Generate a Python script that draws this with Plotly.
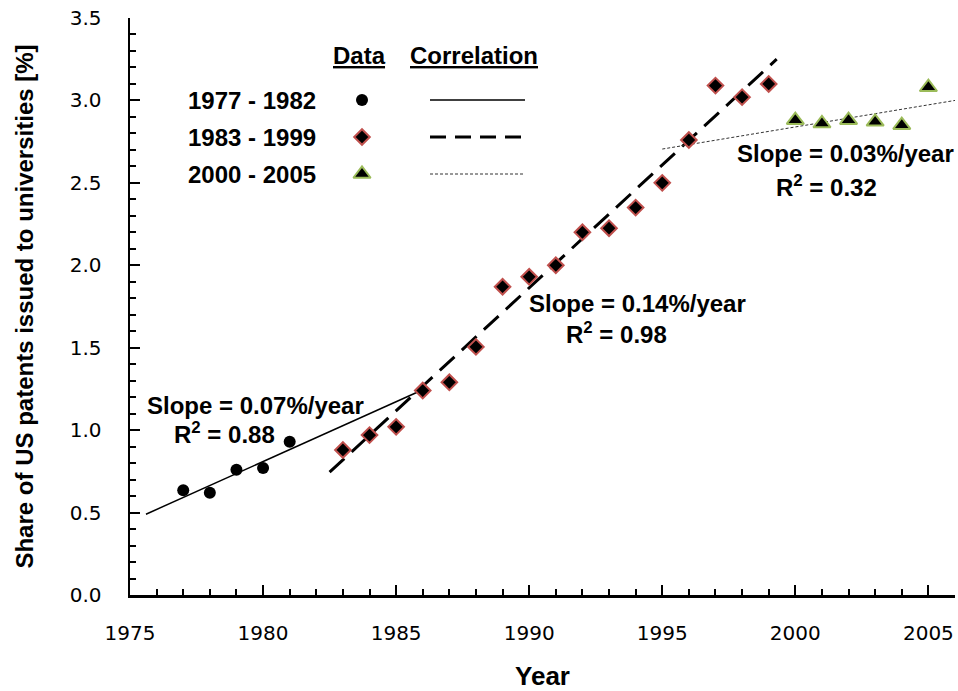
import plotly.graph_objects as go

# ---- data ----
years_a = [1977, 1978, 1979, 1980, 1981]
share_a = [0.635, 0.62, 0.76, 0.77, 0.93]

years_b = list(range(1983, 2000))
share_b = [0.88, 0.97, 1.02, 1.24, 1.29, 1.505, 1.87, 1.93, 2.00, 2.20, 2.225,
           2.35, 2.50, 2.76, 3.09, 3.02, 3.10]

years_c = [2000, 2001, 2002, 2003, 2004, 2005]
share_c = [2.88, 2.86, 2.88, 2.87, 2.85, 3.08]

# correlation (trend) line end points
trend_a_x = [1975.6, 1986.0]
trend_a_y = [0.49, 1.245]
trend_b_x = [1982.5, 1999.3]
trend_b_y = [0.745, 3.25]
trend_c_x = [1995.0, 2006.0]
trend_c_y = [2.705, 3.00]

legend_labels = ["1977 - 1982", "1983 - 1999", "2000 - 2005"]
x_ticks = [1975, 1980, 1985, 1990, 1995, 2000, 2005]
y_ticks = [0.0, 0.5, 1.0, 1.5, 2.0, 2.5, 3.0, 3.5]

W, H = 958, 691
L, R, T, B = 130, 955, 18, 595

circle = dict(symbol="circle", size=12, color="black")
diamond = dict(symbol="diamond", size=12, color="black",
               line=dict(color="#c0504d", width=2))
triangle = dict(symbol="triangle-up", size=15, color="black",
                line=dict(color="#9bbb59", width=2))
solid = dict(color="black", width=1.5)
dashed = dict(color="black", width=3, dash="20px,10px")
dotted = dict(color="#333333", width=1, dash="3px,2px")

fig = go.Figure()
fig.add_trace(go.Scatter(x=trend_a_x, y=trend_a_y, mode="lines", line=solid))
fig.add_trace(go.Scatter(x=trend_b_x, y=trend_b_y, mode="lines", line=dashed))
fig.add_trace(go.Scatter(x=trend_c_x, y=trend_c_y, mode="lines", line=dotted))
fig.add_trace(go.Scatter(x=years_a, y=share_a, mode="markers", marker=circle))
fig.add_trace(go.Scatter(x=years_b, y=share_b, mode="markers", marker=diamond))
fig.add_trace(go.Scatter(x=years_c, y=share_c, mode="markers", marker=triangle))

# legend table drawn on a pixel overlay axis
rows_y = [100, 137, 174]
for mk, yy in zip([circle, diamond, triangle], rows_y):
    fig.add_trace(go.Scatter(x=[362], y=[yy], mode="markers", marker=mk,
                             xaxis="x2", yaxis="y2"))
for ln, yy in zip([solid, dict(dashed, dash="16px,9px"), dotted], rows_y):
    fig.add_trace(go.Scatter(x=[430, 525], y=[yy, yy], mode="lines", line=ln,
                             xaxis="x2", yaxis="y2"))

bold = dict(family="Liberation Sans, Arial", size=24, color="black")
ann = []
for lab, yy in zip(legend_labels, rows_y):
    ann.append(dict(x=318, y=yy, xref="x2", yref="y2", text="<b>%s</b>" % lab,
                    showarrow=False, xanchor="right", yanchor="middle", font=bold))
hdr = dict(bold, lineposition="under")
ann.append(dict(x=359, y=55, xref="x2", yref="y2", text="<b>Data</b>",
                showarrow=False, xanchor="center", yanchor="middle", font=hdr))
ann.append(dict(x=474, y=55, xref="x2", yref="y2", text="<b>Correlation</b>",
                showarrow=False, xanchor="center", yanchor="middle", font=hdr))

def add_text(px, py, txt):
    ann.append(dict(x=px, y=py, xref="x2", yref="y2", text="<b>%s</b>" % txt,
                    showarrow=False, xanchor="center", yanchor="middle", font=bold))

add_text(255, 405, "Slope = 0.07%/year")
add_text(224, 433, "R<sup>2</sup> = 0.88")
add_text(637, 303, "Slope = 0.14%/year")
add_text(616, 333, "R<sup>2</sup> = 0.98")
add_text(845, 153, "Slope = 0.03%/year")
add_text(826, 186, "R<sup>2</sup> = 0.32")

fig.update_layout(
    width=W, height=H, showlegend=False,
    paper_bgcolor="white", plot_bgcolor="white",
    margin=dict(l=L, r=W - R, t=T, b=H - B, autoexpand=False),
    annotations=ann,
    xaxis=dict(range=[1975, 2006], tickvals=x_ticks, ticks="inside", ticklen=10,
               tickwidth=2, tickcolor="black", showline=True, linecolor="black",
               linewidth=2.5, showgrid=False, zeroline=False, ticklabelstandoff=18,
               ticklabeloverflow="allow",
               minor=dict(dtick=1, ticks="inside", ticklen=6, tickwidth=2,
                          tickcolor="black", showgrid=False),
               tickfont=dict(family="DejaVu Sans", size=20, color="black"),
               title=dict(text="<b>Year</b>", standoff=26,
                          font=dict(family="Liberation Sans, Arial", size=26,
                                    color="black"))),
    yaxis=dict(range=[0, 3.5], tickvals=y_ticks, tickformat=".1f", ticks="inside",
               ticklen=10, tickwidth=2, tickcolor="black", showline=True,
               linecolor="black", linewidth=2.5, showgrid=False, zeroline=False,
               ticklabelstandoff=22, ticklabeloverflow="allow",
               minor=dict(dtick=0.1, ticks="inside", ticklen=6, tickwidth=2,
                          tickcolor="black", showgrid=False),
               tickfont=dict(family="DejaVu Sans", size=20, color="black"),
               title=dict(text="<b>Share of US patents issued to universities [%]</b>",
                          standoff=30,
                          font=dict(family="Liberation Sans, Arial", size=24,
                                    color="black"))),
    xaxis2=dict(range=[L, R], overlaying="x", visible=False, fixedrange=True),
    yaxis2=dict(range=[B, T], overlaying="y", visible=False, fixedrange=True),
)

# remove the browser's default 8px body margin so the figure fills the window
fig.write_html("out.html",
               config={"displayModeBar": False, "staticPlot": True},
               post_script="document.body.style.margin='0';"
                           "document.body.style.overflow='hidden';")
